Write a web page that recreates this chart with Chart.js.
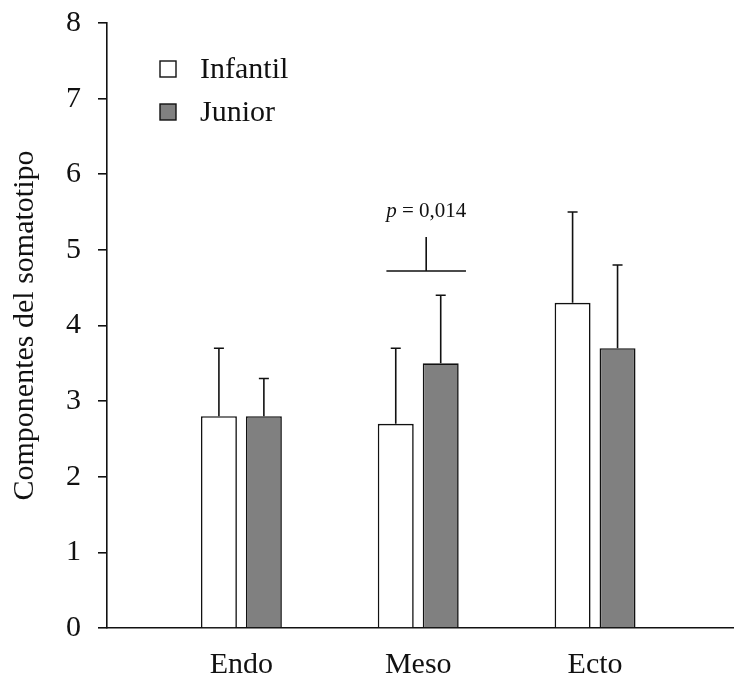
<!DOCTYPE html>
<html>
<head>
<meta charset="utf-8">
<script src="https://cdn.jsdelivr.net/npm/chart.js@4"></script>
<style>
  html, body { margin: 0; padding: 0; background: #fff; }
  #wrap { width: 734px; height: 679px; }
</style>
</head>
<body>
<div id="wrap"><canvas id="my-chart"></canvas></div>
<script>
'use strict';

let components = ['Endo', 'Meso', 'Ecto'];
let infantilMeans = [2.8, 2.7, 4.3];
let infantilSd = [0.9, 1.0, 1.2];
let juniorMeans = [2.8, 3.5, 3.7];
let juniorSd = [0.5, 0.9, 1.1];
let yTicks = [0, 1, 2, 3, 4, 5, 6, 7, 8];
let pLabel = '0,014';

let serif = 'Liberation Serif, Times New Roman, serif';

function toPoints(values) {
  let points = [];
  for (let i = 0; i < values.length; i++) {
    points.push({ x: i + 1, y: values[i] });
  }
  return points;
}

// upper SD whiskers on each bar
let errorBars = {
  id: 'errorBars',
  afterDatasetsDraw(chart) {
    let ctx = chart.ctx;
    let yScale = chart.scales.y;
    let sds = [infantilSd, juniorSd];
    ctx.save();
    ctx.strokeStyle = '#111';
    ctx.lineWidth = 1.6;
    chart.data.datasets.forEach((ds, d) => {
      let meta = chart.getDatasetMeta(d);
      meta.data.forEach((bar, i) => {
        let top = yScale.getPixelForValue(ds.data[i].y + sds[d][i]);
        ctx.beginPath();
        ctx.moveTo(bar.x, bar.y);
        ctx.lineTo(bar.x, top);
        ctx.moveTo(bar.x - 5, top);
        ctx.lineTo(bar.x + 5, top);
        ctx.stroke();
      });
    });
    ctx.restore();
  }
};

// significance bracket over Meso
let sigMark = {
  id: 'sigMark',
  afterDraw(chart) {
    let ctx = chart.ctx;
    let xs = chart.scales.x;
    let ys = chart.scales.y;
    let x0 = xs.getPixelForValue(1.82);
    let x1 = xs.getPixelForValue(2.27);
    let xm = (x0 + x1) / 2;
    let yb = ys.getPixelForValue(4.72);
    let yt = ys.getPixelForValue(5.17);
    ctx.save();
    ctx.strokeStyle = '#111';
    ctx.lineWidth = 1.6;
    ctx.beginPath();
    ctx.moveTo(x0, yb);
    ctx.lineTo(x1, yb);
    ctx.moveTo(xm, yb);
    ctx.lineTo(xm, yt);
    ctx.stroke();

    ctx.fillStyle = '#111';
    ctx.textBaseline = 'alphabetic';
    let italic = 'italic 21px ' + serif;
    let plain = '21px ' + serif;
    ctx.font = italic;
    let wP = ctx.measureText('p').width;
    ctx.font = plain;
    let rest = ' = ' + pLabel;
    let wR = ctx.measureText(rest).width;
    let start = xm - (wP + wR) / 2;
    let base = yt - 20;
    ctx.font = italic;
    ctx.textAlign = 'left';
    ctx.fillText('p', start, base);
    ctx.font = plain;
    ctx.fillText(rest, start + wP, base);
    ctx.restore();
  }
};

// legend in the upper-left corner of the plot
let boxLegend = {
  id: 'boxLegend',
  afterDraw(chart) {
    let ctx = chart.ctx;
    ctx.save();
    ctx.font = '30px ' + serif;
    ctx.textBaseline = 'middle';
    ctx.textAlign = 'left';
    chart.data.datasets.forEach((ds, d) => {
      let cy = 69 + d * 43;
      ctx.fillStyle = ds.backgroundColor;
      ctx.strokeStyle = '#111';
      ctx.lineWidth = 1.4;
      ctx.fillRect(160, cy - 8, 16, 16);
      ctx.strokeRect(160, cy - 8, 16, 16);
      ctx.fillStyle = '#111';
      ctx.fillText(ds.label, 200, cy + 1);
    });
    ctx.restore();
  }
};

let canvasElem = document.getElementById('my-chart');

let chartObj = {
  type: 'bar',
  data: {
    datasets: [{
      label: 'Infantil',
      data: toPoints(infantilMeans),
      backgroundColor: '#ffffff',
      borderColor: '#111',
      borderWidth: 1.6,
      categoryPercentage: 0.5085,
      barPercentage: 0.8
    },
    {
      label: 'Junior',
      data: toPoints(juniorMeans),
      backgroundColor: '#808080',
      borderColor: '#111',
      borderWidth: 1.6,
      categoryPercentage: 0.5085,
      barPercentage: 0.8
    }]
  },
  options: {
    responsive: true,
    maintainAspectRatio: false,
    animation: false,
    layout: { padding: { top: 23, right: 1, left: 0, bottom: 0 } },
    scales: {
      x: {
        type: 'linear',
        offset: false,
        min: 0.24,
        max: 3.78,
        afterBuildTicks(scale) {
          scale.ticks = components.map((c, i) => ({ value: i + 1 }));
        },
        afterFit(scale) { scale.height = 51; },
        grid: { display: false, drawTicks: false },
        border: { display: true, color: '#111', width: 1.6 },
        ticks: {
          color: '#111',
          padding: 19,
          maxRotation: 0,
          font: { family: serif, size: 30 },
          callback: (v) => components[v - 1] || ''
        }
      },
      y: {
        min: 0,
        max: 8,
        afterBuildTicks(scale) {
          scale.ticks = yTicks.map((v) => ({ value: v }));
        },
        afterFit(scale) {
          scale.width = 107;
          scale.paddingTop = 0;
          scale.paddingBottom = 0;
        },
        grid: { drawOnChartArea: false, drawTicks: true, tickLength: 9, color: '#111', lineWidth: 1.6 },
        border: { display: true, color: '#111', width: 1.6 },
        ticks: {
          color: '#111',
          padding: 17,
          font: { family: serif, size: 30 }
        },
        title: {
          display: true,
          text: 'Componentes del somatotipo',
          color: '#111',
          padding: { top: 7, bottom: 0 },
          font: { family: serif, size: 30 }
        }
      }
    },
    plugins: {
      legend: { display: false },
      tooltip: { enabled: false }
    }
  },
  plugins: [errorBars, sigMark, boxLegend]
};

new Chart(canvasElem, chartObj);
</script>
</body>
</html>
